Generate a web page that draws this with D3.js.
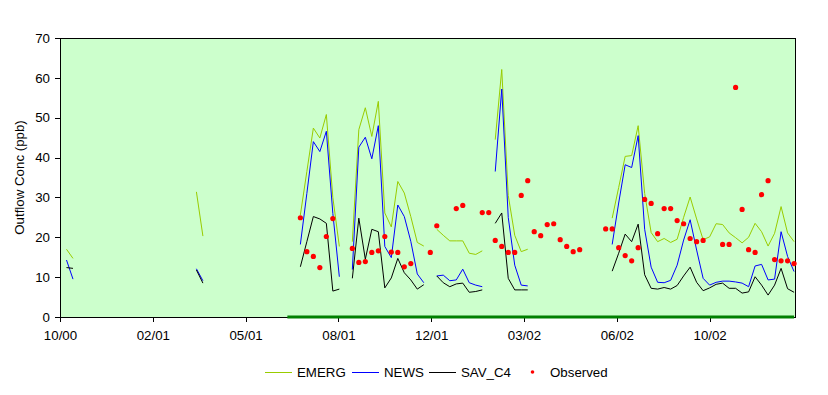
<!DOCTYPE html>
<html>
<head>
<meta charset="utf-8">
<script src="https://cdn.jsdelivr.net/npm/d3@7"></script>
<style>
  body { margin: 0; background: #fff; }
  svg text { font-family: Arial, "Liberation Sans", sans-serif; font-size: 13.3px; fill: #000; }
</style>
</head>
<body>
<div id="chart"></div>
<script>
// Model runs: [first week, weekly values]; gaps between runs are not drawn
const emergRuns = [
  [1, [17.0, 14.7]],
  [21, [31.4, 20.3]],
  [37, [25.6, 36.5, 47.4, 44.9, 50.8, 30.0, 17.7]],
  [45, [18.9, 47.0, 52.5, 45.3, 54.1, 26.1, 22.6, 34.0, 31.1, 25.2, 18.7, 17.8]],
  [58, [22.0, 20.5, 19.1, 19.1, 19.1, 16.0, 15.7, 16.6]],
  [67, [44.5, 62.1, 30.5, 20.5, 16.4, 17.0]],
  [85, [24.8, 32.5, 40.3, 40.5, 48.0, 31.0, 21.2, 18.9, 19.7, 18.7, 19.5, 25.0, 30.1, 24.6, 19.4,
        20.1, 23.4, 23.2, 21.1, 19.9, 18.6, 20.0, 23.5, 21.4, 17.8, 21.0, 27.7, 21.1, 18.9]]
];
const newsRuns = [
  [1, [14.3, 9.5]],
  [21, [12.1, 9.1]],
  [37, [18.2, 31.0, 44.0, 41.5, 46.6, 26.0, 10.1]],
  [45, [11.9, 42.6, 45.1, 39.7, 48.0, 17.7, 14.9, 28.1, 25.2, 19.0, 10.8, 8.6]],
  [58, [10.3, 10.5, 9.1, 9.3, 12.0, 8.6, 8.0, 7.6]],
  [67, [36.5, 57.2, 25.0, 13.0, 8.0, 7.8]],
  [85, [18.2, 28.6, 38.2, 37.5, 45.5, 22.0, 12.5, 8.7, 8.6, 9.2, 13.0, 19.3, 24.4, 16.8, 9.7,
        8.0, 8.7, 9.0, 9.0, 8.8, 8.5, 7.6, 12.8, 13.2, 9.3, 9.5, 21.4, 15.2, 11.4]]
];
const savRuns = [
  [1, [12.4, 12.2]],
  [21, [11.8, 8.5]],
  [37, [12.6, 18.9, 25.2, 24.6, 23.5, 6.5, 7.0]],
  [45, [9.7, 24.8, 14.5, 22.0, 21.4, 7.3, 9.8, 14.7, 11.1, 9.3, 7.0, 8.1]],
  [58, [10.3, 8.6, 7.6, 8.3, 8.5, 6.2, 6.4, 6.8]],
  [67, [23.5, 26.1, 9.7, 6.8, 6.8, 6.8]],
  [85, [11.5, 16.0, 20.8, 18.9, 23.3, 10.6, 7.2, 7.0, 7.4, 7.0, 7.9, 10.3, 12.5, 8.7, 6.6,
        7.3, 8.2, 8.5, 7.2, 7.2, 6.0, 6.3, 10.1, 8.0, 5.5, 8.0, 12.2, 7.1, 6.2]]
];

// Observed samples
const obsWeeks = [37, 38, 39, 40, 41, 42, 45, 46, 47, 48, 49, 50, 51, 52, 53, 54, 57, 58, 61, 62,
  65, 66, 67, 68, 69, 70, 71, 72, 73, 74, 75, 76, 77, 78, 79, 80, 84, 85, 86, 87, 88, 89, 90, 91,
  92, 93, 94, 95, 96, 97, 98, 99, 102, 103, 104, 105, 106, 107, 108, 109, 110, 111, 112, 113];
const obsValues = [24.9, 16.4, 15.2, 12.4, 20.2, 24.7, 17.2, 13.7, 13.9, 16.2, 16.6, 20.2, 16.3, 16.2,
  12.6, 13.4, 16.2, 22.9, 27.2, 28.0, 26.2, 26.2, 19.2, 17.7, 16.2, 16.2, 30.5, 34.2, 21.4, 20.4,
  23.2, 23.4, 19.4, 17.7, 16.4, 16.9, 22.1, 22.1, 17.4, 15.4, 14.1, 17.4, 29.5, 28.5, 20.9, 27.2,
  27.2, 24.2, 23.4, 19.7, 18.9, 19.2, 18.2, 18.2, 57.6, 27.0, 16.9, 16.2, 30.7, 34.2, 14.4, 14.1,
  14.1, 13.4];

// period marker along the bottom (weeks)
const markerWeeks = [35, 113];

const yTicks = [0, 10, 20, 30, 40, 50, 60, 70];
const xTickDays = [0, 100, 200, 300, 400, 500, 600, 700];
const xTickLabels = ['10/00', '02/01', '05/01', '08/01', '12/01', '03/02', '06/02', '10/02'];

const margin = { top: 38, right: 33, bottom: 78, left: 60 };
const width = 828 - margin.left - margin.right;
const height = 395 - margin.top - margin.bottom;

const svg = d3.select('#chart')
  .append('svg')
  .attr('width', 828)
  .attr('height', 395);

const g = svg.append('g')
  .attr('transform', `translate(${margin.left}, ${margin.top})`);

const x = d3.scaleLinear().domain([0, 792]).range([0, width]);
const y = d3.scaleLinear().domain([0, 70]).range([height, 0]);
const wx = w => x(w * 7);

// plot background
g.append('rect')
  .attr('width', width)
  .attr('height', height)
  .attr('fill', '#ccffcc');

// axes
const yAxis = g.append('g')
  .call(d3.axisLeft(y).tickValues(yTicks).tickSize(5).tickPadding(5).tickSizeOuter(0));
const xAxis = g.append('g')
  .attr('transform', `translate(0, ${height})`)
  .call(d3.axisBottom(x).tickValues(xTickDays).tickSize(5).tickPadding(9).tickSizeOuter(0)
    .tickFormat((d, i) => xTickLabels[i]));
[yAxis, xAxis].forEach(a => {
  a.selectAll('text').attr('font-size', null).attr('font-family', null);
  a.selectAll('line, path').attr('stroke', '#000').attr('shape-rendering', 'crispEdges');
  a.attr('font-size', null).attr('font-family', null);
});

// plot border
g.append('rect')
  .attr('width', width)
  .attr('height', height)
  .attr('fill', 'none')
  .attr('stroke', '#000')
  .attr('shape-rendering', 'crispEdges');

const line = d3.line()
  .x(d => wx(d[0]))
  .y(d => y(d[1]));

function drawRuns(runs, color) {
  runs.forEach(([start, vals]) => {
    g.append('path')
      .datum(vals.map((v, i) => [start + i, v]))
      .attr('fill', 'none')
      .attr('stroke', color)
      .attr('stroke-width', 1)
      .attr('d', line);
  });
}

drawRuns(emergRuns, '#99cc00');
drawRuns(newsRuns, '#0000ff');
drawRuns(savRuns, '#000000');

// observed points
g.selectAll('circle.obs')
  .data(obsWeeks.map((w, i) => [w, obsValues[i]]))
  .enter()
  .append('circle')
  .attr('class', 'obs')
  .attr('cx', d => wx(d[0]))
  .attr('cy', d => y(d[1]))
  .attr('r', 2.6)
  .attr('fill', '#ff0000');

// marker bar on the x axis
g.append('path')
  .datum(markerWeeks.map(w => [w, 0]))
  .attr('fill', 'none')
  .attr('stroke', '#008000')
  .attr('stroke-width', 3)
  .attr('d', line);

// y axis title
svg.append('text')
  .attr('transform', `translate(24, ${margin.top + height / 2}) rotate(-90)`)
  .attr('text-anchor', 'middle')
  .text('Outflow Conc (ppb)');

// legend
const legendY = 372;
const legend = [
  { name: 'EMERG', color: '#99cc00', type: 'line', x: 265 },
  { name: 'NEWS', color: '#0000ff', type: 'line', x: 352 },
  { name: 'SAV_C4', color: '#000000', type: 'line', x: 429 },
  { name: 'Observed', color: '#ff0000', type: 'dot', x: 520 }
];
legend.forEach(item => {
  if (item.type === 'line') {
    svg.append('line')
      .attr('x1', item.x).attr('x2', item.x + 27)
      .attr('y1', legendY + 0.5).attr('y2', legendY + 0.5)
      .attr('stroke', item.color);
  } else {
    svg.append('circle')
      .attr('cx', item.x + 12.5).attr('cy', legendY)
      .attr('r', 1.8)
      .attr('fill', item.color);
  }
  svg.append('text')
    .attr('x', item.x + (item.type === 'line' ? 32 : 30))
    .attr('y', legendY + 5)
    .text(item.name);
});
</script>
</body>
</html>
